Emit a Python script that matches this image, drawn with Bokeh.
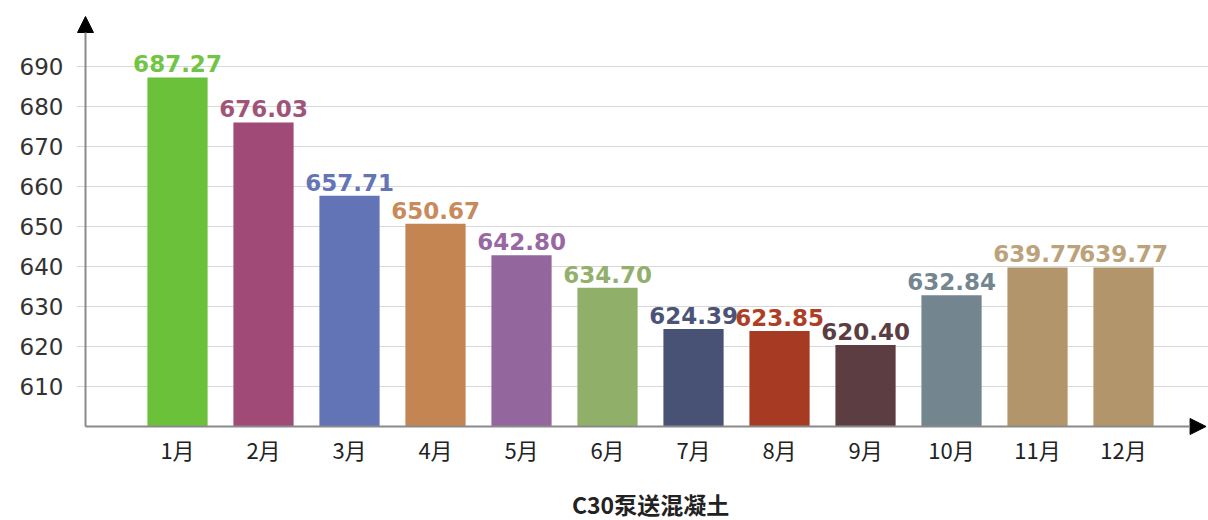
from bokeh.plotting import figure
from bokeh.models import ColumnDataSource, FixedTicker, Arrow, NormalHead
from bokeh.embed import file_html
from bokeh.resources import INLINE
from bokeh.core.properties import value

months = ["1月", "2月", "3月", "4月", "5月", "6月", "7月", "8月", "9月", "10月", "11月", "12月"]
prices = [687.27, 676.03, 657.71, 650.67, 642.80, 634.70, 624.39, 623.85, 620.40, 632.84, 639.77, 639.77]
labels = ["687.27", "676.03", "657.71", "650.67", "642.80", "634.70", "624.39", "623.85", "620.40", "632.84", "639.77", "639.77"]
bar_colors = ["#6cc13a", "#a04a78", "#6274b5", "#c48553", "#93669e", "#90af68",
              "#475275", "#a63a22", "#5c3d42", "#73858f", "#b2956a", "#b2956a"]
label_colors = ["#72c444", "#a05478", "#6474b5", "#c88a5a", "#9868a2", "#92b06c",
                "#4b5478", "#ae3e26", "#5c3d42", "#74868f", "#bca27a", "#bca27a"]
y_ticks = [610, 620, 630, 640, 650, 660, 670, 680, 690]
title_text = "C30泵送混凝土"
base_value = 600

xs = list(range(1, len(months) + 1))
src = ColumnDataSource(dict(x=xs, top=prices, lab=labels, bc=bar_colors, lc=label_colors))
msrc = ColumnDataSource(dict(x=xs, y=[base_value] * len(xs), m=months))
tsrc = ColumnDataSource(dict(x=[sum(xs) / len(xs)], y=[base_value], t=[title_text]))

W, H = 1208, 520
p = figure(width=W, height=H, output_backend="svg", toolbar_location=None,
           x_range=(-0.1744, 12.988), y_range=(576.5, 704),
           min_border_left=76, min_border_right=0, min_border_top=10, min_border_bottom=0)
p.outline_line_color = None
p.background_fill_color = "white"
p.border_fill_color = "white"

p.vbar(x="x", top="top", bottom=base_value, width=0.7, fill_color="bc", line_color=None, source=src)
p.text(x="x", y="top", text="lab", text_color="lc", source=src, text_align="center",
       text_baseline="bottom", y_offset=-5, text_font=value("DejaVu Sans"),
       text_font_size="23px", text_font_style="bold")

# month labels and title under the x axis
p.text(x="x", y="y", text="m", source=msrc, text_align="center", text_baseline="middle",
       y_offset=22, text_font=value("Noto Sans CJK SC"), text_font_size="22px",
       text_color="#222222")
p.text(x="x", y="y", text="t", source=tsrc, text_align="center", text_baseline="middle",
       y_offset=77, text_font=value("Noto Sans CJK SC"), text_font_size="23px",
       text_font_style="bold", text_color="#222222")

# y axis
p.yaxis.ticker = FixedTicker(ticks=y_ticks)
p.yaxis.axis_line_color = None
p.yaxis.major_tick_out = 0
p.yaxis.major_tick_in = 0
p.yaxis.minor_tick_out = 0
p.yaxis.minor_tick_in = 0
p.yaxis.major_label_standoff = 13
p.yaxis.major_label_text_font = "DejaVu Sans"
p.yaxis.major_label_text_font_size = "23px"
p.yaxis.major_label_text_color = "#333333"

p.ygrid.ticker = FixedTicker(ticks=y_ticks)
p.ygrid.grid_line_color = "#d8d8d8"
p.ygrid.grid_line_width = 1
p.xgrid.grid_line_color = None
p.xaxis.visible = False

# arrow axes
x_axis_pos = -0.0698
p.add_layout(Arrow(end=NormalHead(size=16, fill_color="black", line_color="black"),
                   x_start=x_axis_pos, y_start=base_value, x_end=x_axis_pos, y_end=702.5,
                   line_color="#8a8a8a", line_width=2))
p.add_layout(Arrow(end=NormalHead(size=16, fill_color="black", line_color="black"),
                   x_start=x_axis_pos, y_start=base_value, x_end=12.96, y_end=base_value,
                   line_color="#8a8a8a", line_width=2))

open("out.html", "w").write(file_html(p, INLINE))
